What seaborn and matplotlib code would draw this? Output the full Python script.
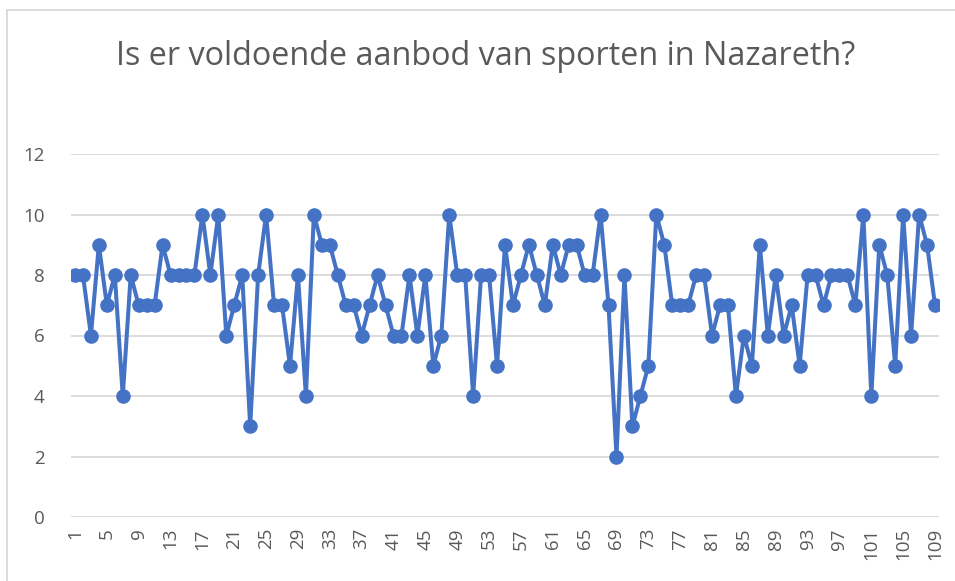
import numpy as np
import pandas as pd
import matplotlib
matplotlib.use("Agg")
import matplotlib.pyplot as plt
import seaborn as sns

# answers per respondent (1..109)
respondent = list(range(1, 110))
score = [
    8, 8, 6, 9, 7, 8, 4, 8, 7, 7,
    7, 9, 8, 8, 8, 8, 10, 8, 10, 6,
    7, 8, 3, 8, 10, 7, 7, 5, 8, 4,
    10, 9, 9, 8, 7, 7, 6, 7, 8, 7,
    6, 6, 8, 6, 8, 5, 6, 10, 8, 8,
    4, 8, 8, 5, 9, 7, 8, 9, 8, 7,
    9, 8, 9, 9, 8, 8, 10, 7, 2, 8,
    3, 4, 5, 10, 9, 7, 7, 7, 8, 8,
    6, 7, 7, 4, 6, 5, 9, 6, 8, 6,
    7, 5, 8, 8, 7, 8, 8, 8, 7, 10,
    4, 9, 8, 5, 10, 6, 10, 9, 7,
]
y_ticks = [0, 2, 4, 6, 8, 10, 12]
x_ticks = respondent[::4]
title = "Is er voldoende aanbod van sporten in Nazareth?"

df = pd.DataFrame({"respondent": respondent, "score": score})

sns.set_style("white")
plt.rcParams["font.family"] = ["Open Sans", "DejaVu Sans"]
text_col = "#595959"
grid_col = "#d9d9d9"
line_col = "#4472C4"

fig = plt.figure(figsize=(9.55, 5.81), dpi=100)
ax = fig.add_axes([71 / 955, 64 / 581, 868 / 955, 363 / 581])

sns.lineplot(data=df, x="respondent", y="score", ax=ax, color=line_col,
             linewidth=2.9, marker="o", markersize=10.5, markeredgewidth=0,
             markeredgecolor=line_col)

ax.set_xlim(0.5, 109.5)
ax.set_ylim(0, 12)
ax.set_yticks(y_ticks)
ax.set_xticks(x_ticks)
ax.set_xticklabels([str(v) for v in x_ticks], rotation=90)
ax.tick_params(axis="both", length=0, labelsize=13.5, colors=text_col)
ax.tick_params(axis="y", pad=19)
ax.tick_params(axis="x", pad=8)
ax.grid(axis="y", color=grid_col, linewidth=1.3)
ax.set_axisbelow(True)
for s in ax.spines.values():
    s.set_visible(False)
ax.set_xlabel("")
ax.set_ylabel("")

fig.text(486 / 955, 1 - 65 / 581, title, ha="center", va="baseline",
         fontsize=23.3, color=text_col)

# chart area border (only top and left are visible in the crop)
fig.add_artist(plt.Line2D([7 / 955, 7 / 955], [0, 1 - 10 / 581], color=grid_col,
                          linewidth=1.3, transform=fig.transFigure))
fig.add_artist(plt.Line2D([7 / 955, 1], [1 - 10 / 581, 1 - 10 / 581], color=grid_col,
                          linewidth=1.3, transform=fig.transFigure))

fig.savefig("out.png", dpi=100)
